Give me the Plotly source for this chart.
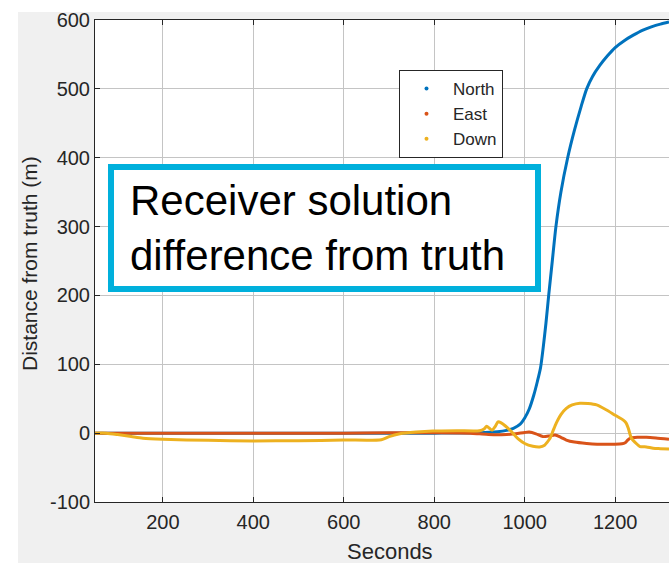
import plotly.graph_objects as go

# Receiver position error components (m) versus time (s)
north_t = [50, 100, 200, 400, 600, 800, 900, 940, 960, 975, 990, 1000, 1010, 1020, 1028,
           1035, 1041, 1047, 1053, 1061, 1069, 1080, 1095, 1110, 1125, 1137, 1150, 1166, 1183,
           1200, 1220, 1240, 1260, 1280, 1300, 1319]
north = [0, 0, 0, 0, 0, 0, 0.5, 2, 4, 7, 13, 22, 35, 55, 75,
         95, 125, 160, 200, 250, 300, 350, 400, 440, 475, 500, 518, 534, 548,
         560, 570, 578, 585, 590, 594, 597]

east_t = [50, 200, 400, 600, 700, 800, 880, 900, 920, 940, 960, 980, 1000, 1010, 1025,
          1040, 1055, 1067, 1080, 1092, 1110, 1137, 1160, 1196, 1215, 1222, 1228, 1235,
          1250, 1269, 1290, 1319]
east = [0, 0, 0, 0, 0.5, 0.5, 0, -1, -2, -2.5, -2, -1, 1, 1.5, -1,
        -5, -4, -2.6, -6, -10, -13, -15, -16, -16, -15.5, -14, -10, -7,
        -6, -6, -7, -9]

down_t = [50, 75, 100, 130, 156, 200, 300, 400, 500, 600, 683, 700, 724, 760, 797, 850,
          900, 910, 916, 922, 928, 935, 941, 948, 958, 971, 985, 1000, 1018, 1033, 1044,
          1050, 1056, 1063, 1070, 1080, 1092, 1105, 1122, 1140, 1159, 1180, 1200, 1218,
          1224, 1229, 1236, 1245, 1255, 1269, 1284, 1300, 1319]
down = [0, 0, -2, -5, -7.5, -9, -10.5, -11.3, -11, -10, -9.5, -5, -1, 1.5, 3, 3.5,
        3.5, 6, 10, 7, 4.5, 10, 16.5, 15, 10, 2, -8, -15, -19, -20, -17.5,
        -13, -7.5, 4, 15, 27, 36, 41, 43.5, 43, 41, 34, 26, 19,
        15, 7, -7.5, -14, -19.5, -20, -22, -22.5, -23]

x_ticks = [200, 400, 600, 800, 1000, 1200]
x_tick_labels = ["200", "400", "600", "800", "1000", "1200"]
y_ticks = [-100, 0, 100, 200, 300, 400, 500, 600]
y_tick_labels = ["-100", "0", "100", "200", "300", "400", "500", "600"]

series_names = ["North", "East", "Down"]
colors = ["#0072BD", "#D95319", "#EDB120"]

FONT = "Liberation Sans, Arial, Helvetica, sans-serif"
INK = "#262626"

W, H = 669, 563
ML, MR, MT, MB = 95, 0, 20, 61
PW, PH = W - ML - MR, H - MT - MB


def px(x):
    return (x - ML) / PW


def py(y):
    return (H - MB - y) / PH


fig = go.Figure()

for t, v, c in zip([north_t, east_t, down_t], [north, east, down], colors):
    fig.add_trace(go.Scatter(x=t, y=v, mode="lines",
                             line=dict(color=c, width=3, shape="spline", smoothing=0.7),
                             showlegend=False, hoverinfo="skip"))

# dot-style legend entries
for name, c in zip(series_names, colors):
    fig.add_trace(go.Scatter(x=[None], y=[None], mode="markers", name=name,
                             marker=dict(color=c, size=4)))

fig.update_layout(
    width=W, height=H, autosize=False,
    margin=dict(l=ML, r=MR, t=MT, b=MB, pad=0),
    paper_bgcolor="#f0f0f0", plot_bgcolor="white",
    font=dict(family=FONT, color=INK),
    legend=dict(x=px(399), y=py(70), xanchor="left", yanchor="top",
                bgcolor="white", bordercolor=INK, borderwidth=1,
                font=dict(size=17, color=INK, family=FONT),
                itemwidth=43, tracegroupgap=0),
)

fig.update_xaxes(range=[50, 1319], tickvals=x_ticks, ticktext=x_tick_labels,
                 showgrid=True, gridcolor="#c4c4c4", gridwidth=1,
                 showline=True, linecolor=INK, linewidth=1, mirror="ticks",
                 ticks="inside", ticklen=5, tickcolor=INK, ticklabelstandoff=2,
                 tickfont=dict(size=20, color=INK, family=FONT),
                 zeroline=False)
fig.update_yaxes(range=[-100, 600], tickvals=y_ticks, ticktext=y_tick_labels,
                 showgrid=True, gridcolor="#c4c4c4", gridwidth=1,
                 showline=True, linecolor=INK, linewidth=1, mirror=False,
                 ticks="inside", ticklen=5, tickcolor=INK,
                 tickfont=dict(size=20, color=INK, family=FONT),
                 zeroline=False)

# white page margins around the grey figure area
fig.add_shape(type="rect", xref="paper", yref="paper", x0=-1, x1=2, y0=py(12), y1=2,
              fillcolor="white", line=dict(width=0), layer="above")
fig.add_shape(type="rect", xref="paper", yref="paper", x0=-1, x1=px(18), y0=-1, y1=2,
              fillcolor="white", line=dict(width=0), layer="above")

# callout box
fig.add_shape(type="rect", xref="paper", yref="paper",
              x0=px(111), x1=px(538), y0=py(289), y1=py(167),
              fillcolor="white", line=dict(color="#00B0DC", width=6), layer="above")
fig.add_annotation(xref="paper", yref="paper", x=px(129), y=py(228),
                   xanchor="left", yanchor="middle", align="left", showarrow=False,
                   text="Receiver solution<br>difference from truth",
                   font=dict(size=42, color="black", family=FONT), borderpad=0)

# axis titles
fig.add_annotation(xref="paper", yref="paper", x=px(390), y=py(551),
                   xanchor="center", yanchor="middle", showarrow=False,
                   text="Seconds", font=dict(size=22, color=INK, family=FONT))
fig.add_annotation(xref="paper", yref="paper", x=px(29), y=py(264),
                   xanchor="center", yanchor="middle", showarrow=False, textangle=-90,
                   text="Distance from truth (m)", font=dict(size=21, color=INK, family=FONT))

fig.write_html("out.html")
